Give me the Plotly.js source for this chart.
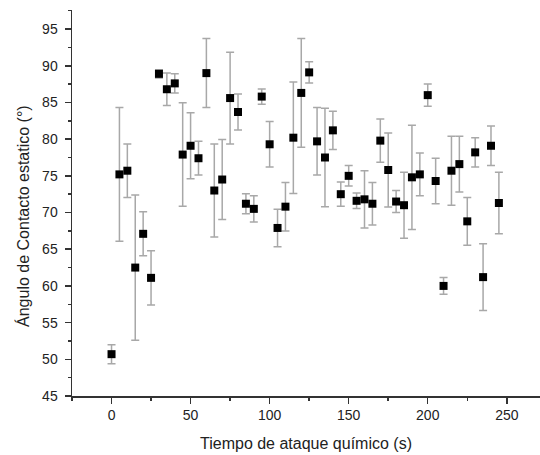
<!DOCTYPE html>
<html>
<head>
<meta charset="utf-8">
<script src="https://cdn.plot.ly/plotly-3.0.1.min.js"></script>
<style>html,body{margin:0;padding:0;background:#fff;}#chart{width:540px;height:455px;}</style>
</head>
<body>
<div id="chart"></div>
<script>
const tiempo = [0,5,10,15,20,25,30,35,40,45,50,55,60,65,70,75,80,85,90,95,100,105,110,115,120,125,130,135,140,145,150,155,160,165,170,175,180,185,190,195,200,205,210,215,220,225,230,235,240,245];
const angulo = [50.7,75.2,75.7,62.5,67.1,61.1,88.9,86.8,87.6,77.9,79.1,77.4,89.0,73.0,74.5,85.6,83.7,71.2,70.5,85.8,79.3,67.9,70.8,80.2,86.3,89.1,79.7,77.5,81.2,72.5,75.0,71.6,71.8,71.2,79.8,75.8,71.5,71.0,74.8,75.2,86.0,74.3,60.0,75.7,76.6,68.8,78.2,61.2,79.1,71.3];
const error = [1.3,9.1,3.65,9.9,3.0,3.7,0.55,2.2,1.3,7.05,4.5,2.3,4.7,6.35,5.45,6.25,2.45,1.35,1.8,1.05,3.1,2.55,3.3,7.6,7.4,1.45,4.6,6.7,2.6,1.65,1.4,1.05,3.9,2.9,2.95,5.05,1.5,4.5,7.1,2.9,1.5,3.1,1.15,4.7,3.8,3.25,2.0,4.55,2.7,4.2];
const xTicks = [0,50,100,150,200,250];
const yTicks = [45,50,55,60,65,70,75,80,85,90,95];
const yTitle = 'Ángulo de Contacto estatico (°)';
const xTitle = 'Tiempo de ataque químico (s)';

const trace = {
  x: tiempo, y: angulo, type: 'scatter', mode: 'markers',
  marker: {symbol: 'square', size: 8, color: '#000'},
  error_y: {type: 'data', array: error, visible: true, color: '#a8a8a8', thickness: 1.5, width: 4}
};
const layout = {
  width: 540, height: 455,
  margin: {l: 72, r: 0, t: 10, b: 59},
  paper_bgcolor: '#fff', plot_bgcolor: '#fff',
  showlegend: false,
  font: {family: 'Liberation Sans, Arial, sans-serif', color: '#222'},
  xaxis: {
    range: [-25, 271], tickvals: xTicks, ticktext: xTicks.map(String),
    showgrid: false, zeroline: false, showline: true, linecolor: '#333', linewidth: 1.5,
    ticks: 'outside', ticklen: 6, tickwidth: 1.5, tickcolor: '#333',
    minor: {dtick: 25, tick0: 0, ticks: 'outside', ticklen: 3, tickwidth: 1.5, tickcolor: '#333', showgrid: false},
    tickfont: {size: 14, color: '#222'},
    title: {text: xTitle, font: {size: 16, color: '#222'}, standoff: 15}
  },
  yaxis: {
    range: [45, 97.6], tickvals: yTicks, ticktext: yTicks.map(String),
    showgrid: false, zeroline: false, showline: true, linecolor: '#333', linewidth: 1.5,
    ticks: 'outside', ticklen: 6, tickwidth: 1.5, tickcolor: '#333', ticklabelstandoff: 4,
    minor: {dtick: 2.5, tick0: 45, ticks: 'outside', ticklen: 3, tickwidth: 1.5, tickcolor: '#333', showgrid: false},
    tickfont: {size: 14, color: '#222'}
  },
  annotations: [{
    text: yTitle, textangle: -90, showarrow: false,
    xref: 'paper', yref: 'paper', x: -0.105, y: 0.466, xanchor: 'center', yanchor: 'middle',
    font: {size: 16, color: '#222'}
  }]
};
Plotly.newPlot('chart', [trace], layout, {displayModeBar: false, staticPlot: true});
</script>
</body>
</html>
